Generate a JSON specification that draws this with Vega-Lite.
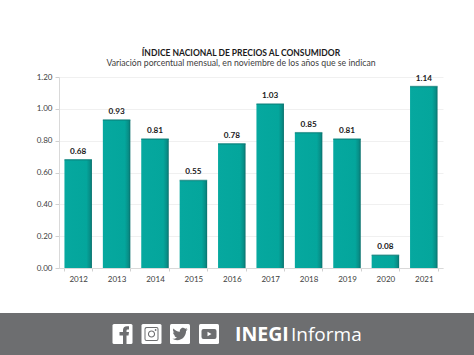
{"$schema":"https://vega.github.io/schema/vega-lite/v6.json","width":384,"height":191,"autosize":"none","padding":{"left":59,"top":77,"right":31,"bottom":87},"background":"white","config":{"view":{"stroke":null},"font":"Lato"},"title":{"text":"ÍNDICE NACIONAL DE PRECIOS AL CONSUMIDOR","subtitle":"Variación porcentual mensual, en noviembre de los años que se indican","font":"Lato","fontSize":8.5,"fontWeight":"bold","color":"#1a1a1a","subtitleFont":"Lato","subtitleFontSize":8.7,"subtitleColor":"#404040","subtitlePadding":1.5,"anchor":"middle","dx":-10,"offset":5},"datasets":{"bars":[{"year":"2012","value":0.68},{"year":"2013","value":0.93},{"year":"2014","value":0.81},{"year":"2015","value":0.55},{"year":"2016","value":0.78},{"year":"2017","value":1.03},{"year":"2018","value":0.85},{"year":"2019","value":0.81},{"year":"2020","value":0.08},{"year":"2021","value":1.14}],"band":[{"x0":0,"x1":474,"y0":313,"y1":355}],"icons":[{"x":122.5,"y":334,"name":"facebook"},{"x":151.5,"y":334,"name":"instagram"},{"x":180,"y":334,"name":"twitter"},{"x":209,"y":334,"name":"youtube"}],"words":[{"x":235,"y":341,"t":"INEGI"},{"x":291,"y":341,"t":"Informa"}]},"layer":[{"layer":[{"data":{"name":"bars"},"mark":{"type":"bar","color":{"gradient":"linear","x1":0,"x2":1,"y1":0,"y2":0,"stops":[{"offset":0,"color":"#06a89f"},{"offset":0.8,"color":"#04a69c"},{"offset":0.93,"color":"#078e87"},{"offset":1,"color":"#0a6f6b"}]}},"encoding":{"x":{"field":"year","type":"nominal","scale":{"paddingInner":0.284,"paddingOuter":0.142},"axis":{"title":null,"labelAngle":0,"labelColor":"#404040","labelFontSize":8,"labelPadding":4,"domainColor":"#d9d9d9","tickColor":"#d0d0d0","tickSize":3,"tickBand":"extent","grid":false,"labelOverlap":false}},"y":{"field":"value","type":"quantitative","scale":{"domain":[0,1.2]},"axis":{"title":null,"values":[0,0.2,0.4,0.6,0.8,1,1.2],"tickCount":7,"format":".2f","labelColor":"#404040","labelFontSize":8,"labelPadding":3,"domainColor":"#d9d9d9","tickColor":"#d0d0d0","tickSize":4,"gridColor":"#f0f0f0","labelOverlap":false}}}},{"data":{"name":"bars"},"mark":{"type":"tick","color":"#0b7d78","thickness":1.5,"size":27.5},"encoding":{"x":{"field":"year","type":"nominal"},"y":{"field":"value","type":"quantitative"}}},{"data":{"name":"bars"},"mark":{"type":"text","dy":-8,"fontSize":8.2,"fontWeight":"bold","color":"#1a1a1a"},"encoding":{"x":{"field":"year","type":"nominal"},"y":{"field":"value","type":"quantitative"},"text":{"field":"value","type":"quantitative","format":".2f"}}}]},{"layer":[{"data":{"name":"band"},"mark":{"type":"rect","color":"#6d6e70","clip":false},"encoding":{"x":{"field":"x0","type":"quantitative","scale":{"domain":[0,474],"range":[-59,415],"nice":false,"zero":false},"axis":null},"x2":{"field":"x1"},"y":{"field":"y0","type":"quantitative","scale":{"domain":[0,355],"range":[-77,278],"nice":false,"zero":false},"axis":null},"y2":{"field":"y1"}}},{"data":{"name":"icons"},"mark":{"type":"point","filled":true,"color":"white","opacity":1,"size":400,"shape":"M-0.85,-1 L0.85,-1 Q1,-1 1,-0.85 L1,0.85 Q1,1 0.85,1 L-0.85,1 Q-1,1 -1,0.85 L-1,-0.85 Q-1,-1 -0.85,-1 Z"},"encoding":{"x":{"field":"x","type":"quantitative"},"y":{"field":"y","type":"quantitative"}}},{"data":{"name":"icons"},"transform":[{"filter":"datum.name==='facebook'"}],"mark":{"type":"point","filled":true,"color":"#6d6e70","opacity":1,"size":400,"shape":"M0.05,1 L0.05,0.15 L-0.3,0.15 L-0.3,-0.2 L0.05,-0.2 L0.05,-0.4 Q0.05,-0.78 0.45,-0.78 L0.65,-0.78 L0.65,-0.45 L0.5,-0.45 Q0.4,-0.45 0.4,-0.32 L0.4,-0.2 L0.65,-0.2 L0.6,0.15 L0.4,0.15 L0.4,1 Z"},"encoding":{"x":{"field":"x","type":"quantitative"},"y":{"field":"y","type":"quantitative"}}},{"data":{"name":"icons"},"transform":[{"filter":"datum.name==='instagram'"}],"mark":{"type":"point","filled":true,"color":"#6d6e70","opacity":1,"size":400,"shape":"M-0.5,-0.7 L0.5,-0.7 Q0.7,-0.7 0.7,-0.5 L0.7,0.5 Q0.7,0.7 0.5,0.7 L-0.5,0.7 Q-0.7,0.7 -0.7,0.5 L-0.7,-0.5 Q-0.7,-0.7 -0.5,-0.7 Z M-0.5,-0.6 L-0.6,-0.5 L-0.6,0.5 Q-0.6,0.6 -0.5,0.6 L0.5,0.6 Q0.6,0.6 0.6,0.5 L0.6,-0.5 Q0.6,-0.6 0.5,-0.6 Z M0.36,0 A0.36,0.36 0 1 1 -0.36,0 A0.36,0.36 0 1 1 0.36,0 Z M0.25,0 A0.25,0.25 0 1 0 -0.25,0 A0.25,0.25 0 1 0 0.25,0 Z M0.5,-0.4 A0.09,0.09 0 1 1 0.32,-0.4 A0.09,0.09 0 1 1 0.5,-0.4 Z"},"encoding":{"x":{"field":"x","type":"quantitative"},"y":{"field":"y","type":"quantitative"}}},{"data":{"name":"icons"},"transform":[{"filter":"datum.name==='twitter'"}],"mark":{"type":"point","filled":true,"color":"#6d6e70","opacity":1,"size":1.6,"shape":"M11.953 -7.43 a10 10 0 0 1 -2.825 0.775 4.958 4.958 0 0 0 2.163 -2.723 c-0.951 0.555 -2.005 0.959 -3.127 1.184 a4.92 4.92 0 0 0 -8.384 4.482 C-4.31 -3.905 -7.933 -5.87 -10.36 -8.838 a4.822 4.822 0 0 0 -0.666 2.475 c0 1.71 0.87 3.213 2.188 4.096 a4.904 4.904 0 0 1 -2.228 -0.616 v0.06 a4.923 4.923 0 0 0 3.946 4.827 4.996 4.996 0 0 1 -2.212 0.085 4.936 4.936 0 0 0 4.604 3.417 9.867 9.867 0 0 1 -6.102 2.105 c-0.39 0 -0.779 -0.023 -1.17 -0.067 a13.995 13.995 0 0 0 7.557 2.209 c9.053 0 13.998 -7.496 13.998 -13.985 0 -0.21 0 -0.42 -0.015 -0.63 A9.935 9.935 0 0 0 12 -7.41 z"},"encoding":{"x":{"field":"x","type":"quantitative"},"y":{"field":"y","type":"quantitative"}}},{"data":{"name":"icons"},"transform":[{"filter":"datum.name==='youtube'"}],"mark":{"type":"point","filled":true,"color":"#6d6e70","opacity":1,"size":400,"shape":"M-0.55,-0.5 L0.55,-0.5 Q0.75,-0.5 0.75,-0.3 L0.75,0.3 Q0.75,0.5 0.55,0.5 L-0.55,0.5 Q-0.75,0.5 -0.75,0.3 L-0.75,-0.3 Q-0.75,-0.5 -0.55,-0.5 Z M-0.15,-0.22 L-0.15,0.22 L0.25,0 Z"},"encoding":{"x":{"field":"x","type":"quantitative"},"y":{"field":"y","type":"quantitative"}}},{"data":{"name":"words"},"transform":[{"filter":"datum.t==='INEGI'"}],"mark":{"type":"text","align":"left","baseline":"alphabetic","fontSize":19.5,"fontWeight":"bold","font":"Open Sans","color":"white"},"encoding":{"x":{"field":"x","type":"quantitative"},"y":{"field":"y","type":"quantitative"},"text":{"field":"t"}}},{"data":{"name":"words"},"transform":[{"filter":"datum.t==='Informa'"}],"mark":{"type":"text","align":"left","baseline":"alphabetic","fontSize":19,"fontWeight":"normal","font":"Open Sans","color":"white"},"encoding":{"x":{"field":"x","type":"quantitative"},"y":{"field":"y","type":"quantitative"},"text":{"field":"t"}}}],"resolve":{"scale":{"x":"shared","y":"shared"}}}],"resolve":{"scale":{"x":"independent","y":"independent"}}}
